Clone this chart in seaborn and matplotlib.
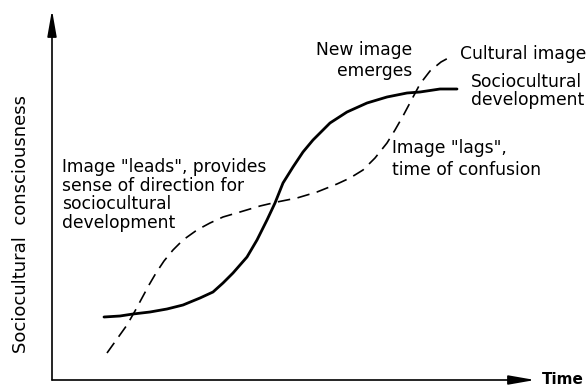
import matplotlib
matplotlib.use("Agg")
import matplotlib.pyplot as plt
import seaborn as sns
import pandas as pd

# (arbitrary units: time and consciousness)
solid_time = [52, 68, 81, 98, 115, 131, 148, 161, 171, 181, 195, 205, 215, 223, 231, 241, 251, 261,
              278, 295, 315, 335, 355, 368, 388, 405]
solid_level = [63, 64, 66, 68, 71, 75, 82, 88, 97, 107, 123, 140, 160, 177, 197, 213, 228, 240,
               257, 268, 277, 283, 287, 288, 291, 291]

dashed_time = [55, 65, 75, 83, 90, 97, 104, 112, 121, 131, 145, 158, 171, 188, 208, 225, 245, 265,
               285, 298, 311, 323, 335, 343, 351, 360, 368, 378, 389, 400]
dashed_level = [27, 41, 55, 69, 82, 95, 107, 119, 130, 140, 150, 157, 163, 168, 174, 178, 182, 188,
                196, 202, 210, 222, 237, 250, 264, 281, 296, 309, 318, 324]

x_label = "Time"
y_label = "Sociocultural  consciousness"

sns.set_style("white")
plt.rcParams['font.family'] = ['DejaVu Sans']
plt.rcParams['text.color'] = 'black'

W, H = 588, 389
fig = plt.figure(figsize=(W / 100, H / 100), dpi=100)
ax = fig.add_axes([52 / W, 9 / H, 483 / W, 370 / H])
ax.set_xlim(0, 483)
ax.set_ylim(0, 370)
ax.axis("off")

df_solid = pd.DataFrame({"time": solid_time, "level": solid_level})
df_dash = pd.DataFrame({"time": dashed_time, "level": dashed_level})

sns.lineplot(data=df_solid, x="time", y="level", ax=ax, color="black",
             lw=2.0, sort=False, estimator=None)
solid_line = ax.lines[-1]
sns.lineplot(data=df_dash, x="time", y="level", ax=ax, color="black",
             lw=1.2, sort=False, estimator=None)
dash_line = ax.lines[-1]
dash_line.set_linestyle((0, (7.5, 4.5)))
for ln in (solid_line, dash_line):
    ln.set_solid_joinstyle("round")
    ln.set_solid_capstyle("round")

# axes with arrows
arrow = dict(arrowstyle="-|>,head_length=1.6,head_width=0.28", color="black",
             lw=1.2, shrinkA=0, shrinkB=0)
ax.annotate("", xy=(0, 1), xytext=(0, 0), xycoords="axes fraction",
            textcoords="axes fraction", arrowprops=arrow)
ax.annotate("", xy=(1, 0), xytext=(0, 0), xycoords="axes fraction",
            textcoords="axes fraction", arrowprops=arrow)

fs = 12.3
ax.text(10, 185, 'Image "leads", provides\nsense of direction for\nsociocultural\ndevelopment',
        ha="left", va="center", fontsize=fs, linespacing=1.05)
ax.text(360, 319.5, "New image\nemerges", ha="right", va="center", fontsize=fs,
        multialignment="right", linespacing=1.2)
ax.text(408, 326, "Cultural image", ha="left", va="center", fontsize=fs, clip_on=False)
ax.text(419, 289, "Sociocultural\ndevelopment", ha="left", va="center", fontsize=fs,
        linespacing=1.05, clip_on=False)
ax.text(340, 221, 'Image "lags",\ntime of confusion', ha="left", va="center",
        fontsize=fs, linespacing=1.25)
ax.text(490, 0, x_label, ha="left", va="center", fontsize=11, fontweight="bold",
        clip_on=False)
fig.text(21 / W, (H - 224) / H, y_label, rotation=90, ha="center", va="center",
         fontsize=13)

fig.savefig("out.png", dpi=100)
